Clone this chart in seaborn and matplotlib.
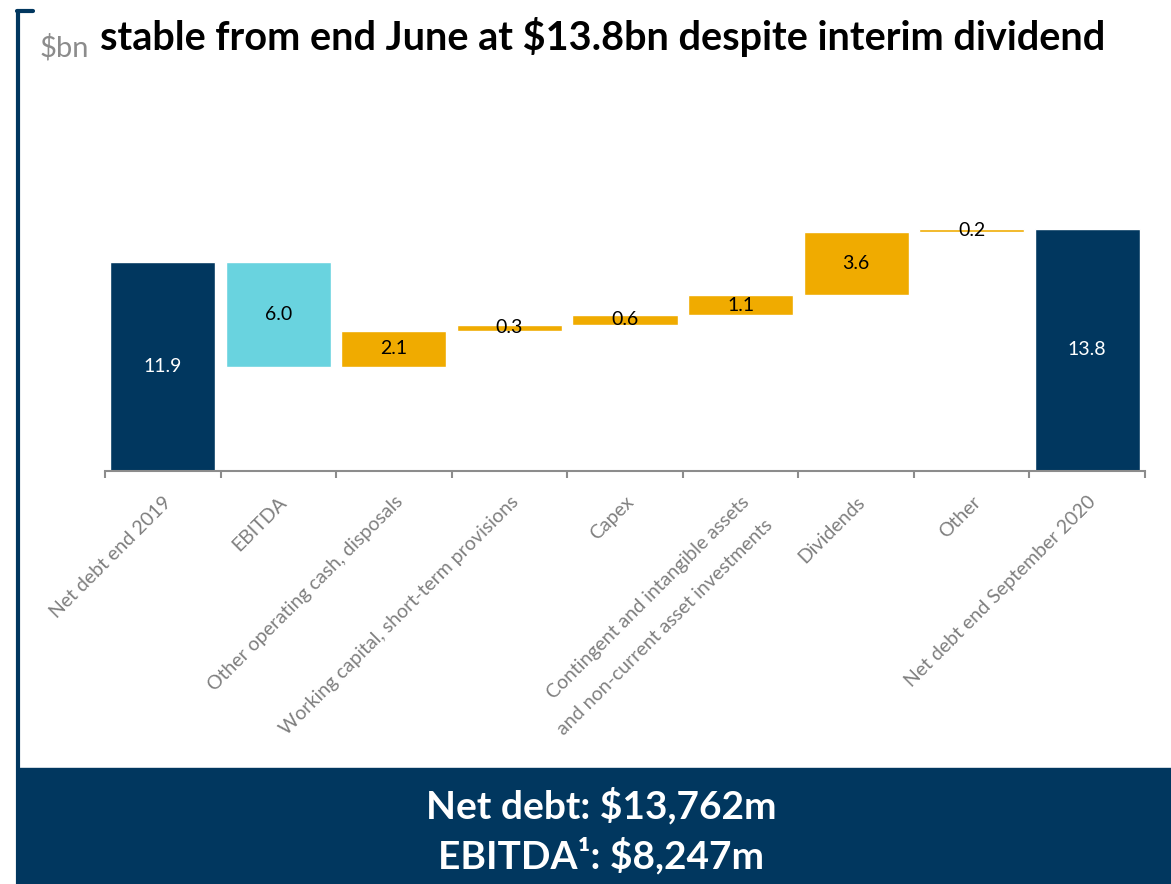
import matplotlib
matplotlib.use('Agg')
import matplotlib.pyplot as plt
import seaborn as sns
import numpy as np
from matplotlib.patches import Rectangle
from matplotlib.lines import Line2D

# Data
categories = [
    "Net debt end 2019",
    "EBITDA",
    "Other operating cash, disposals",
    "Working capital, short-term provisions",
    "Capex",
    "Contingent and intangible assets\nand non-current asset investments",
    "Dividends",
    "Other",
    "Net debt end September 2020",
]
changes = [11.9, -6.0, 2.1, 0.3, 0.6, 1.1, 3.6, 0.2, 13.8]
kinds = ["total", "down", "up", "up", "up", "up", "up", "up", "total"]
value_labels = ["11.9", "6.0", "2.1", "0.3", "0.6", "1.1", "3.6", "0.2", "13.8"]

title_text = "stable from end June at $13.8bn despite interim dividend"
unit_text = "$bn"
box_lines = ["Net debt: $13,762m", "EBITDA\u00b9: $8,247m"]

NAVY = "#01375F"
CYAN = "#69D3DF"
GOLD = "#F0AB00"
GREY = "#7F7F7F"
kind_colors = {"total": NAVY, "down": CYAN, "up": GOLD}

# waterfall geometry
bottoms, heights = [], []
level = 0.0
for v, k in zip(changes, kinds):
    if k == "total":
        bottoms.append(0.0)
        heights.append(v)
        level = v
    elif k == "down":
        level = level + v
        bottoms.append(level)
        heights.append(-v)
    else:
        bottoms.append(level)
        heights.append(v)
        level = level + v

sns.set_style('white')
plt.rcParams['font.family'] = ['Lato', 'DejaVu Sans']

fig = plt.figure(figsize=(11.71, 8.84), dpi=100)
ax = fig.add_axes([105 / 1171, 413 / 884, 1040 / 1171, 341 / 884])

colors = [kind_colors[k] for k in kinds]
sns.barplot(x=list(range(len(categories))), y=heights, hue=list(range(len(categories))),
            palette=colors, legend=False, width=0.91, saturation=1, ax=ax)
for patch, b in zip(ax.patches, bottoms):
    patch.set_y(b)

for i, (b, h, lab, k) in enumerate(zip(bottoms, heights, value_labels, kinds)):
    ax.text(i, b + h / 2, lab, ha='center', va='center', fontsize=14,
            color='white' if k == 'total' else 'black', parse_math=False)

ax.set_xlim(-0.5, len(categories) - 0.5)
ax.set_ylim(0, 19.42)
ax.set_yticks([])
ax.set_ylabel('')
for s in ['top', 'right', 'left']:
    ax.spines[s].set_visible(False)
ax.spines['bottom'].set_color('#8C8C8C')
ax.spines['bottom'].set_linewidth(1.5)

ax.set_xticks(range(len(categories)))
ax.set_xticklabels(categories, rotation=45, ha='right', va='top',
                   rotation_mode='anchor', color=GREY, fontsize=14,
                   linespacing=2.1, multialignment='right')
ax.tick_params(axis='x', which='major', length=0, pad=16)
ax.set_xticks(np.arange(-0.5, len(categories), 1.0), minor=True)
ax.tick_params(axis='x', which='minor', bottom=True, length=5, width=1.5,
               color='#8C8C8C', direction='out')

# title and unit
fig.text(100 / 1171, 1 - 50 / 884, title_text, fontsize=28.5, fontweight='bold',
         color='black', ha='left', va='baseline', parse_math=False)
fig.text(40 / 1171, 1 - 56 / 884, unit_text, fontsize=21, color='#8C8C8C',
         ha='left', va='baseline', parse_math=False)

# frame bracket on left
fig.add_artist(Line2D([18 / 1171, 18 / 1171], [1 - 11 / 884, 0], color=NAVY,
                      linewidth=3, transform=fig.transFigure))
fig.add_artist(Line2D([17 / 1171, 33 / 1171], [1 - 11 / 884, 1 - 11 / 884], color=NAVY,
                      linewidth=3, transform=fig.transFigure))

# bottom summary box
fig.add_artist(Rectangle((17 / 1171, 0), 1 - 17 / 1171, 116 / 884, color=NAVY,
                         transform=fig.transFigure, zorder=5))
fig.text(601 / 1171, 1 - 818 / 884, box_lines[0], fontsize=28, fontweight='bold',
         color='white', ha='center', va='baseline', zorder=6, parse_math=False)
fig.text(601 / 1171, 1 - 868 / 884, box_lines[1], fontsize=28, fontweight='bold',
         color='white', ha='center', va='baseline', zorder=6, parse_math=False)

fig.savefig('out.png', dpi=100)
